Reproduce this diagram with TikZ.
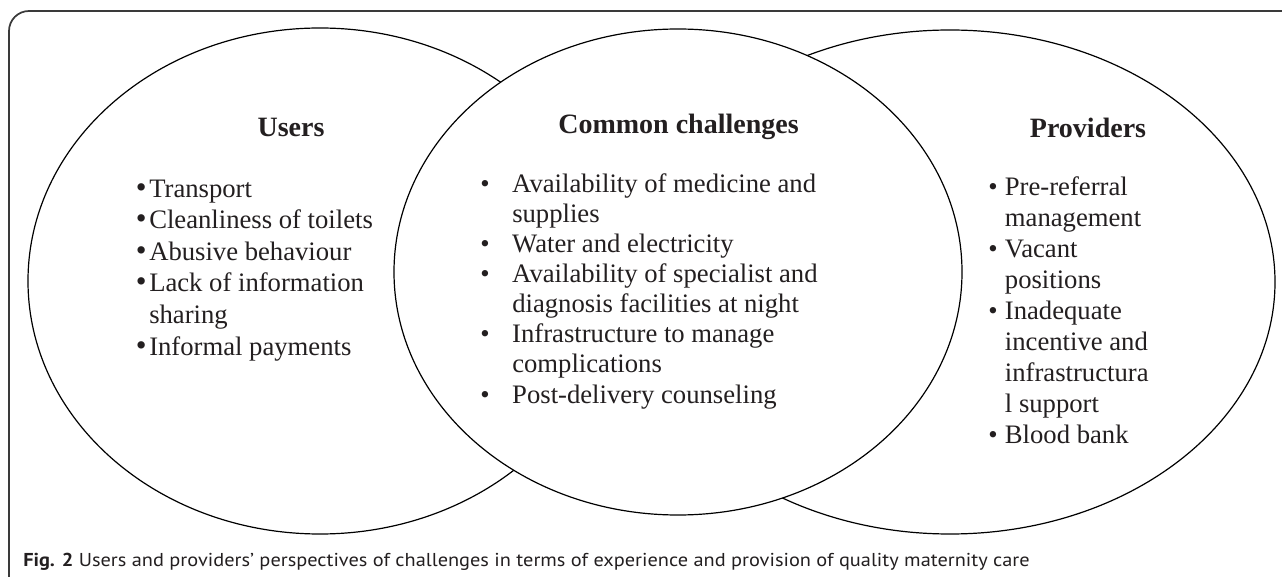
\documentclass[tikz,border=0pt]{standalone}
\usepackage{fontspec}
\setmainfont{Liberation Serif}
\newfontfamily\capfont{PT Sans}
\usetikzlibrary{positioning}
\definecolor{ink}{HTML}{231F20}
\definecolor{framecol}{HTML}{3A3A3A}
\newcommand\ubl{\makebox[7.5pt][l]{\hspace*{-2.5pt}\scalebox{1.15}{\textbullet}}}
\newcommand\ubi{\hspace*{7.5pt}}
\newcommand\mbl{\makebox[24pt][l]{\textbullet}}
\newcommand\mbi{\hspace*{24pt}}
\newcommand\rbl{\makebox[12.5pt][l]{\textbullet}}
\newcommand\rbi{\hspace*{12.5pt}}
\begin{document}
\begin{tikzpicture}[x=0.75pt,y=-0.75pt,
  ell/.style={draw=black,line width=0.9pt},
  head/.style={font=\fontsize{21}{25}\selectfont\bfseries,text=ink,inner sep=0pt,anchor=base},
  listu/.style={font=\fontsize{20}{23.7}\selectfont,text=ink,inner sep=0pt,align=left,anchor=base west},
  listm/.style={font=\fontsize{20}{22.6}\selectfont,text=ink,inner sep=0pt,align=left,anchor=base west},
  listr/.style={font=\fontsize{20}{23.25}\selectfont,text=ink,inner sep=0pt,align=left,anchor=base west},
  captext/.style={font=\capfont\fontsize{14}{16}\selectfont,text=ink,inner sep=0pt,anchor=base west}]
\useasboundingbox (0,0) rectangle (1282,577);
\fill[white] (0,0) rectangle (1282,577);
% frame
\draw[framecol,line width=1.3pt,rounded corners=15] (9,580) -- (9,11) -- (1290,11);
% ellipses
\draw[ell] (320,281) ellipse [x radius=292, y radius=253];
\draw[ell] (950,282) ellipse [x radius=325, y radius=252];
\draw[ell,fill=white] (678,272) ellipse [x radius=284, y radius=243];
% headings
\node[head] (husers) at (291,137) {Users};
\node[head] (hcommon) at (678.5,134) {Common challenges};
\node[head] (hprov) at (1088,138) {Providers};
% lists (anchored at the baseline of their last line)
\node[listu] (lusers) at (139,355) {\ubl Transport\\
\ubl Cleanliness of toilets\\
\ubl Abusive behaviour\\
\ubl Lack of information\\
\ubi sharing\\
\ubl Informal payments};
\node[listm] (lcommon) at (480,403) {\mbl Availability of medicine and\\
\mbi supplies\\
\mbl Water and electricity\\
\mbl Availability of specialist and\\
\mbi diagnosis facilities at night\\
\mbl Infrastructure to manage\\
\mbi complications\\
\mbl Post-delivery counseling};
\node[listr] (lprov) at (988,443) {\rbl Pre-referral\\
\rbi management\\
\rbl Vacant\\
\rbi positions\\
\rbl Inadequate\\
\rbi incentive and\\
\rbi infrastructura\\
\rbi l support\\
\rbl Blood bank};
% caption
\node[captext] (caption) at (23,566) {\scalebox{1.09}[1]{\textbf{Fig. 2} Users and providers’ perspectives of challenges in terms of experience and provision of quality maternity care}};
\end{tikzpicture}
\end{document}
